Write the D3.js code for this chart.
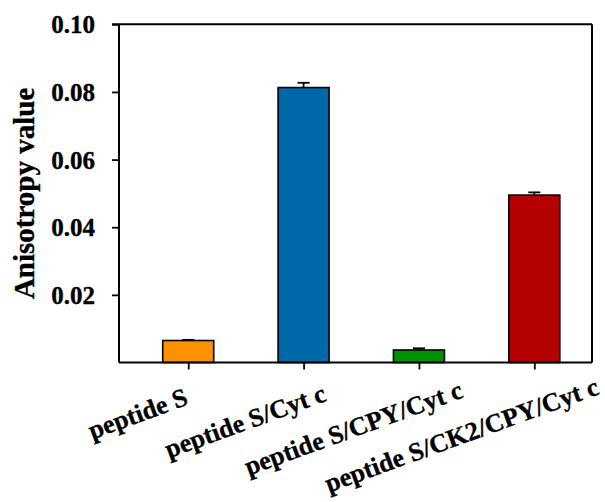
<!DOCTYPE html>
<html>
<head>
<meta charset="utf-8">
<script src="https://cdn.jsdelivr.net/npm/d3@7"></script>
<style>
  html, body { margin: 0; padding: 0; background: #fff; }
  svg { display: block; }
  text { font-family: "Liberation Serif", "Times New Roman", serif; font-weight: bold; fill: #000; stroke: #000; stroke-width: 0.35px; }
</style>
</head>
<body>
<svg id="chart" width="605" height="502"></svg>
<script>
// Anisotropy measurements per sample
const categories = ["peptide S", "peptide S/Cyt c", "peptide S/CPY/Cyt c", "peptide S/CK2/CPY/Cyt c"];
const values = [0.0065, 0.0813, 0.0037, 0.0495];
const errors = [0.0002, 0.0014, 0.0005, 0.0008];
const colors = ["#FF9000", "#0067A8", "#009000", "#B40000"];
const yTicks = [0.02, 0.04, 0.06, 0.08, 0.10];

const svg = d3.select("#chart");
const plotLeft = 119, plotRight = 592, plotTop = 24.3, plotBottom = 362.5;

const x = d3.scaleLinear().domain([-0.6, 3.5]).range([plotLeft, plotRight]);
const y = d3.scaleLinear().domain([0, 0.10]).range([plotBottom, plotTop]);
const barW = 51;

// Bars
svg.append("g").selectAll("rect")
  .data(values)
  .join("rect")
  .attr("x", (d, i) => x(i) - barW / 2)
  .attr("y", d => y(d))
  .attr("width", barW)
  .attr("height", d => y(0) - y(d))
  .attr("fill", (d, i) => colors[i])
  .attr("stroke", "#000")
  .attr("stroke-width", 1.6);

// Upper error bars
const eb = svg.append("g").attr("stroke", "#000").attr("stroke-width", 1.8);
values.forEach((v, i) => {
  const cx = x(i);
  eb.append("line").attr("x1", cx).attr("x2", cx).attr("y1", y(v)).attr("y2", y(v + errors[i]));
  eb.append("line").attr("x1", cx - 6).attr("x2", cx + 6).attr("y1", y(v + errors[i])).attr("y2", y(v + errors[i]));
});

// Y axis
const yAxis = d3.axisLeft(y).tickValues(yTicks).tickFormat(d3.format(".2f")).tickSize(7).tickPadding(17);
const gy = svg.append("g").attr("transform", `translate(${plotLeft},0)`).call(yAxis);
gy.select(".domain").remove();
gy.selectAll(".tick line").attr("stroke", "#000").attr("stroke-width", 1.8);
gy.selectAll(".tick text").style("font-size", "25px").attr("dy", "0.34em");

// X axis
const xAxis = d3.axisBottom(x).tickValues(d3.range(categories.length)).tickSize(7).tickFormat("");
const gx = svg.append("g").attr("transform", `translate(0,${plotBottom})`).call(xAxis);
gx.select(".domain").remove();
gx.selectAll(".tick line").attr("stroke", "#000").attr("stroke-width", 1.8);

// Rotated category labels
const angle = -20;
const rad = Math.abs(angle) * Math.PI / 180;
const labels = svg.append("g").selectAll("text")
  .data(categories)
  .join("text")
  .style("font-size", "26px")
  .attr("text-anchor", "end")
  .text(d => d);
labels.each(function (d, i) {
  const w = this.getComputedTextLength() * Math.cos(rad);
  const ex = x(i) - 35 + 0.372 * w;
  const ey = 410 - 0.06 * w;
  d3.select(this).attr("transform", `translate(${ex},${ey}) rotate(${angle})`);
});

// Frame
const frame = svg.append("g").attr("stroke", "#000").attr("stroke-width", 2).attr("fill", "none");
frame.append("line").attr("x1", plotLeft - 7).attr("x2", plotRight).attr("y1", plotTop).attr("y2", plotTop);
frame.append("line").attr("x1", plotLeft).attr("x2", plotLeft).attr("y1", plotTop).attr("y2", plotBottom);
frame.append("line").attr("x1", plotRight).attr("x2", plotRight).attr("y1", plotTop).attr("y2", plotBottom);
frame.append("line").attr("x1", plotLeft).attr("x2", plotRight).attr("y1", plotBottom).attr("y2", plotBottom);

// Y axis title
svg.append("text")
  .attr("transform", `translate(34,${(plotTop + plotBottom) / 2}) rotate(-90)`)
  .attr("text-anchor", "middle")
  .style("font-size", "29px")
  .text("Anisotropy value");
</script>
</body>
</html>
